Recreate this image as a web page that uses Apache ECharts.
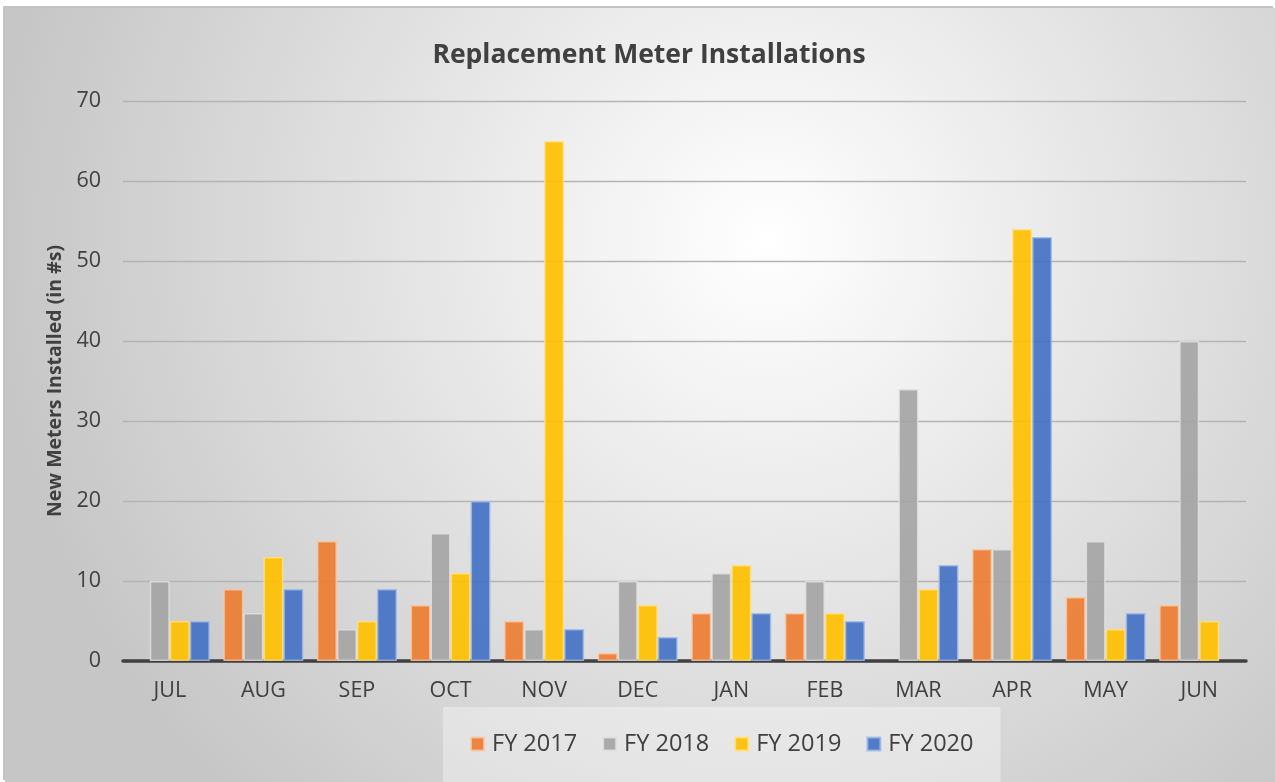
<!DOCTYPE html>
<html>
<head>
<meta charset="utf-8">
<script src="https://cdn.jsdelivr.net/npm/echarts@6/dist/echarts.min.js"></script>
<style>
  html, body { margin: 0; padding: 0; background: #ffffff; }
  #chart {
    position: absolute;
    left: 5px;
    top: 8px;
    width: 1270px;
    height: 774px;
    box-shadow: -2px -2px 0 #c4c4c4;
  }
</style>
</head>
<body>
<div id="chart"></div>
<script>
const months = ['JUL', 'AUG', 'SEP', 'OCT', 'NOV', 'DEC', 'JAN', 'FEB', 'MAR', 'APR', 'MAY', 'JUN']
const fy2017 = [0, 9, 15, 7, 5, 1, 6, 6, 0, 14, 8, 7]
const fy2018 = [10, 6, 4, 16, 4, 10, 11, 10, 34, 14, 15, 40]
const fy2019 = [5, 13, 5, 11, 65, 7, 12, 6, 9, 54, 4, 5]
const fy2020 = [5, 9, 9, 20, 4, 3, 6, 5, 12, 53, 6, 0]
const yTicks = [0, 10, 20, 30, 40, 50, 60, 70]

const textColor = '#404040'
const font = '"Open Sans", "Noto Sans", sans-serif'

const makeSeries = (name, data, color, border) => ({
  name,
  type: 'bar',
  data: data.map((v) => (v === 0 ? null : v)),
  barGap: '0%',
  barCategoryGap: '14.5%',
  itemStyle: {
    color,
    opacity: 0.92,
    borderColor: border,
    borderWidth: 1.5,
  },
})

const chart = echarts.init(document.getElementById('chart'))
chart.setOption({
  backgroundColor: new echarts.graphic.RadialGradient(0.6, 0.3, 1.0, [
    { offset: 0, color: '#ffffff' },
    { offset: 1, color: '#c6c6c6' },
  ]),
  textStyle: { fontFamily: font },
  title: {
    text: 'Replacement Meter Installations',
    left: 639,
    top: 29,
    textAlign: 'center',
    textStyle: {
      color: textColor,
      fontSize: 26.5,
      fontWeight: 'bold',
      fontFamily: font,
    },
  },
  legend: {
    left: 438,
    top: 699,
    padding: [25, 27, 28, 27],
    backgroundColor: 'rgba(255,255,255,0.35)',
    itemWidth: 13,
    itemHeight: 13,
    itemGap: 25,
    icon: 'rect',
    textStyle: { color: textColor, fontSize: 23.5, fontFamily: font, padding: [0, 0, 0, 3] },
    data: ['FY 2017', 'FY 2018', 'FY 2019', 'FY 2020'],
  },
  grid: {
    left: 118,
    right: 29,
    top: 93,
    bottom: 121,
  },
  xAxis: {
    type: 'category',
    data: months,
    axisTick: { show: false },
    axisLine: { lineStyle: { color: '#404040', width: 3.5 } },
    axisLabel: { color: textColor, fontSize: 21.5, margin: 19, fontFamily: font },
  },
  yAxis: {
    type: 'value',
    min: yTicks[0],
    max: yTicks[yTicks.length - 1],
    interval: 10,
    name: 'New Meters Installed (in #s)',
    nameLocation: 'middle',
    nameGap: 54,
    nameTextStyle: { color: textColor, fontSize: 19.5, fontWeight: 'bold', fontFamily: font },
    axisLabel: { color: textColor, fontSize: 21.5, margin: 22, fontFamily: font },
    splitLine: { lineStyle: { color: '#b4b4b4', width: 1.3 } },
  },
  series: [
    makeSeries('FY 2017', fy2017, '#ED7D31', 'rgba(250,200,165,0.9)'),
    makeSeries('FY 2018', fy2018, '#A5A5A5', 'rgba(225,225,225,0.9)'),
    makeSeries('FY 2019', fy2019, '#FFC000', 'rgba(255,225,130,0.9)'),
    makeSeries('FY 2020', fy2020, '#4472C4', 'rgba(160,185,230,0.9)'),
  ],
})
</script>
</body>
</html>
